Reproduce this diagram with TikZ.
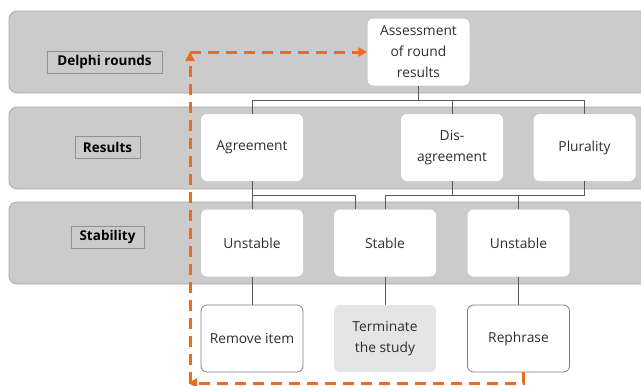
\documentclass[tikz,border=0pt]{standalone}
\usepackage{fontspec}
\setmainfont{Open Sans}
\usetikzlibrary{arrows.meta}
\definecolor{bandfill}{HTML}{CBCBCB}
\definecolor{bandline}{HTML}{A8A8A8}
\definecolor{lblline}{HTML}{909090}
\definecolor{txtgray}{HTML}{2E2E2E}
\definecolor{connc}{HTML}{5A5A5A}
\definecolor{termfill}{HTML}{E4E4E4}
\definecolor{boxline}{HTML}{808080}
\definecolor{orangec}{HTML}{EE6A1E}
\tikzset{
  band/.style={fill=bandfill, draw=bandline, line width=0.8pt, rounded corners=8pt},
  lbl/.style={draw=lblline, fill=bandfill, line width=0.8pt, inner sep=0pt, font=\bfseries\fontsize{13.5}{16}\selectfont, text=black},
  stepbox/.style={rectangle, rounded corners=6pt, fill=white, minimum width=102pt, minimum height=67pt, inner sep=2pt, align=center, text=txtgray, font=\fontsize{13.8}{21}\selectfont},
  outlined/.style={draw=boxline, line width=0.8pt},
  conn/.style={draw=connc, line width=0.8pt},
  oarrow/.style={draw=orangec, line width=3pt, dash pattern=on 11pt off 7pt, -{Triangle[length=9pt,width=9pt]}}
}
\begin{document}
\begin{tikzpicture}[x=1pt,y=-1pt]
\useasboundingbox (0,0) rectangle (641,386);
% bands
\draw[band] (9,11) rectangle (660,93);
\draw[band] (9,107) rectangle (660,189);
\draw[band] (9,202) rectangle (660,284);
% labels
\node[lbl, minimum width=115pt, minimum height=22pt] (l1) at (104.5,62) {Delphi rounds};
\node[lbl, minimum width=65pt, minimum height=22pt] (l2) at (107.5,147) {Results};
\node[lbl, minimum width=73pt, minimum height=22pt] (l3) at (107.5,237) {Stability};
% nodes
\node[stepbox] (assess) at (418.5,52) {Assessment\\of round\\results};
\node[stepbox] (agree) at (252,147.5) {Agreement};
\node[stepbox] (disag) at (452,147.5) {Dis-\\agreement};
\node[stepbox] (plur) at (584.5,147.5) {Plurality};
\node[stepbox] (unst1) at (252,243) {Unstable};
\node[stepbox] (stab) at (385,243) {Stable};
\node[stepbox] (unst2) at (518.5,243) {Unstable};
\node[stepbox, outlined] (remove) at (252,338.5) {Remove item};
\node[stepbox, fill=termfill] (term) at (385,338.5) {Terminate\\the study};
\node[stepbox, outlined] (reph) at (518.5,338.5) {Rephrase};
% connectors
\coordinate (bus1) at (0,100);
\coordinate (bus2) at (0,195);
\draw[conn] (assess.south) -- (assess.south |- bus1);
\draw[conn] (agree.north) |- (plur.north |- bus1) -- (plur.north);
\draw[conn] (disag.north) -- (disag.north |- bus1);
\draw[conn] (agree.south) -- (unst1.north);
\draw[conn] (agree.south |- bus2) -| ([xshift=-30pt]stab.north);
\draw[conn] (plur.south) |- (stab.north |- bus2) -- (stab.north);
\draw[conn] (disag.south) -- (disag.south |- bus2);
\draw[conn] (unst2.north) -- (unst2.north |- bus2);
\draw[conn] (unst1) -- (remove);
\draw[conn] (stab) -- (term);
\draw[conn] (unst2) -- (reph);
% feedback loop
\coordinate (c1) at (188,383);
\coordinate (c2) at (190,52);
\draw[oarrow] ([xshift=5pt]reph.south) |- (c1);
\draw[oarrow] ([xshift=2pt]c1) -- (c2);
\draw[oarrow] (c2) -- (assess.west);
\end{tikzpicture}
\end{document}
